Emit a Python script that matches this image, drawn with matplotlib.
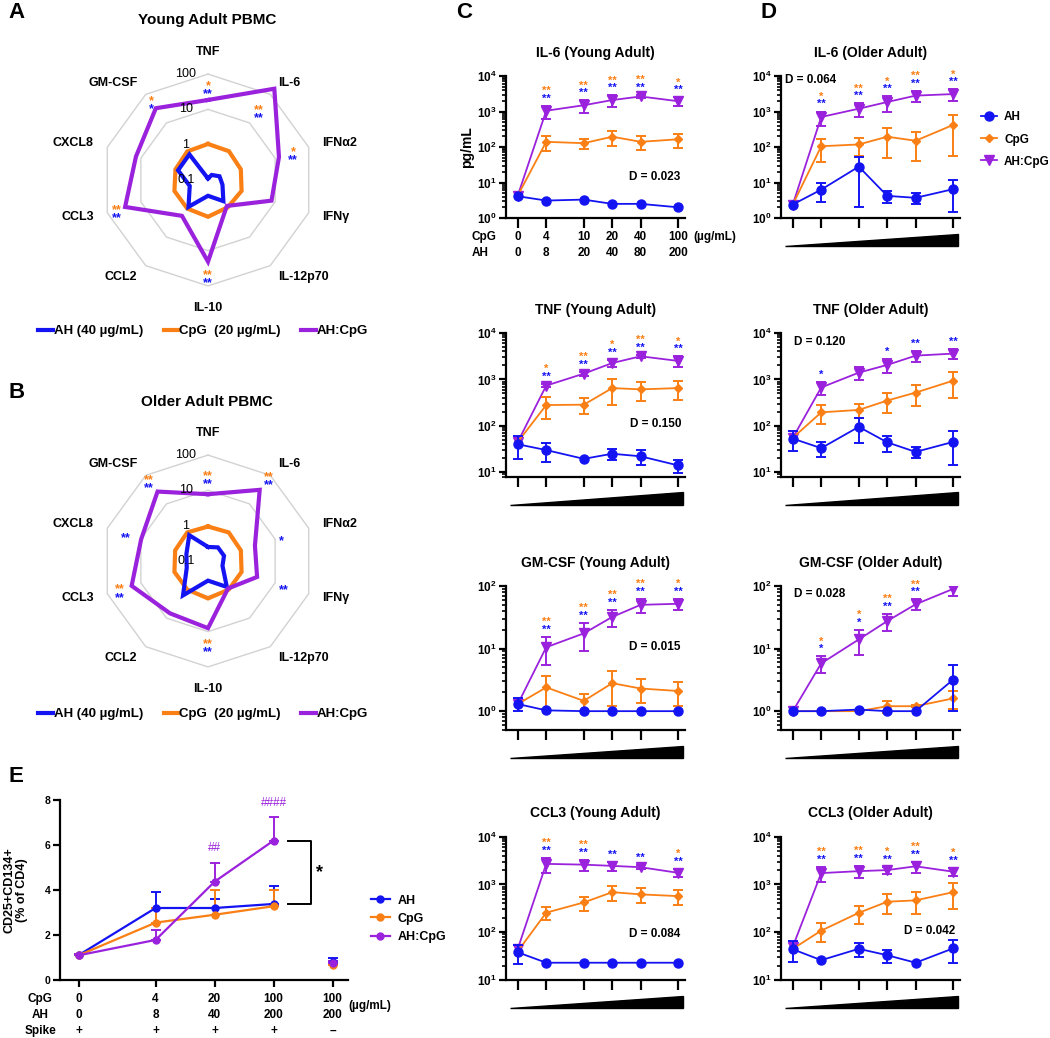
import numpy as np
import matplotlib
matplotlib.use('Agg')
import matplotlib.pyplot as plt
import matplotlib.transforms as mtransforms
from matplotlib import ticker
from matplotlib.lines import Line2D
from matplotlib.patches import Polygon

plt.rcParams['font.family'] = ['Liberation Sans', 'DejaVu Sans']
plt.rcParams['font.weight'] = 'bold'
plt.rcParams['axes.labelweight'] = 'bold'
plt.rcParams['mathtext.fontset'] = 'custom'
plt.rcParams['mathtext.rm'] = 'Liberation Sans:bold'
plt.rcParams['mathtext.bf'] = 'Liberation Sans:bold'
plt.rcParams['axes.linewidth'] = 1.6

BLUE = '#1414F2'
ORANGE = '#FA7F14'
PURPLE = '#9B22DC'
GREY = '#D2D2D2'

###################################################
# Data

# radar plots: fold change over medium
cytokines = ['TNF', 'IL-6', 'IFNα2', 'IFNγ', 'IL-12p70', 'IL-10', 'CCL2', 'CCL3', 'CXCL8', 'GM-CSF']
young_ah = [0.11, 0.15, 0.22, 0.27, 0.55, 0.28, 0.87, 0.35, 0.78, 0.79]
young_cpg = [1.05, 1.02, 0.95, 1.0, 0.9, 1.1, 1.0, 1.0, 0.93, 1.0]
young_combo = [18.5, 157, 13, 7.8, 0.81, 20.6, 1.8, 29.5, 14, 32.6]
young_sig_cpg = ['*', '**', '*', '', '', '**', '', '**', '', '*']
young_sig_ah = ['**', '**', '**', '', '', '**', '', '**', '', '*']

old_ah = [0.25, 0.3, 0.3, 0.27, 0.81, 0.36, 1.6, 0.43, 0.44, 0.8]
old_cpg = [0.95, 1.0, 0.95, 1.0, 1.0, 1.15, 1.0, 1.0, 0.95, 1.0]
old_combo = [7.8, 31, 2.5, 2.9, 0.92, 8, 6.8, 18.8, 9.8, 27]
old_sig_cpg = ['**', '**', '', '', '', '**', '', '**', '', '**']
old_sig_ah = ['**', '**', '*', '**', '', '**', '', '**', '**', '**']

ring_values = [1, 10, 100]
ring_labels = ['0.1', '1', '10', '100']

# dose response (pg/mL), rows = AH, CpG, AH:CpG
cpg_dose = [0, 4, 10, 20, 40, 100]
ah_dose = [0, 8, 20, 40, 80, 200]
nan = np.nan

il6_y_mean = [[4.1, 3.1, 3.3, 2.5, 2.5, 2.0],
              [4.3, 140, 128, 195, 140, 165],
              [4.3, 1050, 1500, 2100, 2650, 1950]]
il6_y_sem = [[nan, nan, nan, nan, nan, nan],
             [nan, 62, 42, 85, 60, 72],
             [nan, 420, 580, 750, 300, 560]]
il6_y_sig = [['', '**', '**', '**', '**', '*'], ['', '**', '**', '**', '**', '**']]

il6_o_mean = [[2.4, 6.3, 28, 4.2, 3.7, 6.5],
              [2.4, 105, 118, 195, 150, 420],
              [2.4, 700, 1200, 1850, 2800, 3100]]
il6_o_sem = [[nan, 3.4, 26, 1.5, 1.2, 5.0],
             [nan, 68, 62, 145, 110, 365],
             [nan, 300, 500, 850, 1000, 1100]]
il6_o_sig = [['', '*', '**', '*', '**', '*'], ['', '**', '**', '**', '**', '**']]

tnf_y_mean = [[40, 30, 19.4, 25, 22, 14],
              [45, 280, 285, 650, 610, 650],
              [45, 735, 1330, 2250, 3150, 2500]]
tnf_y_sem = [[21, 13, nan, 7, 8, 4.5],
             [nan, 140, 105, 370, 270, 290],
             [nan, 60, 120, 400, 250, 650]]
tnf_y_sig = [['', '*', '**', '*', '**', '*'], ['', '**', '**', '**', '**', '**']]

tnf_o_mean = [[53, 33, 95, 44, 27.4, 45],
              [55, 195, 220, 350, 520, 940],
              [55, 670, 1400, 2050, 3250, 3600]]
tnf_o_sem = [[25, 12, 52, 17, 6.7, 31],
             [nan, 83, 75, 165, 255, 540],
             [nan, 200, 450, 650, 900, 900]]
tnf_o_sig = [['', '', '', '', '', ''], ['', '*', '', '*', '**', '**']]

gm_y_mean = [[1.3, 1.03, 1.0, 1.0, 1.0, 1.0],
             [1.3, 2.4, 1.46, 2.8, 2.3, 2.1],
             [1.3, 10.5, 17.5, 32, 50, 52]]
gm_y_sem = [[0.3, nan, nan, nan, nan, nan],
            [nan, 1.3, 0.45, 1.6, 0.95, 0.87],
            [nan, 5, 8.3, 10, 13, 11]]
gm_y_sig = [['', '**', '**', '**', '**', '*'], ['', '**', '**', '**', '**', '**']]

gm_o_mean = [[1.0, 1.0, 1.06, 1.0, 1.0, 3.2],
             [1.0, 1.0, 1.0, 1.2, 1.2, 1.6],
             [1.0, 5.8, 14, 27.5, 51, 90]]
gm_o_sem = [[nan, nan, nan, nan, nan, 2.2],
            [nan, nan, nan, 0.26, 0.05, 0.52],
            [nan, 1.7, 6, 8.5, 10, 20]]
gm_o_sig = [['', '*', '*', '**', '**', '**'], ['', '*', '*', '**', '**', '**']]

ccl3_y_mean = [[38, 23, 23, 23, 23, 23],
               [40, 257, 420, 690, 620, 570],
               [45, 2700, 2600, 2450, 2300, 1750]]
ccl3_y_sem = [[16, nan, nan, nan, nan, nan],
              [nan, 75, 135, 240, 215, 200],
              [nan, 950, 700, 500, 200, 350]]
ccl3_y_sig = [['', '**', '**', '', '', '*'], ['', '**', '**', '**', '**', '**']]

ccl3_o_mean = [[44, 26, 45, 33, 23, 46],
               [45, 108, 255, 435, 465, 690],
               [50, 1730, 1900, 2000, 2400, 1850]]
ccl3_o_sem = [[20, nan, 15, 10, nan, 23],
              [nan, 46, 105, 190, 220, 390],
              [nan, 620, 560, 370, 620, 350]]
ccl3_o_sig = [['', '**', '**', '*', '**', '*'], ['', '**', '**', '**', '**', '**']]

# panel E: CD25+CD134+ (% of CD4)
e_cpg = ['0', '4', '20', '100', '100']
e_ah = ['0', '8', '40', '200', '200']
e_spike = ['+', '+', '+', '+', '–']
e_ah_mean = [1.11, 3.2, 3.2, 3.38, 0.8]
e_ah_sem = [0.05, 0.72, 0.4, 0.82, 0.18]
e_cpg_mean = [1.1, 2.55, 2.9, 3.28, 0.67]
e_cpg_sem = [0.05, 0.65, 1.1, 0.72, 0.05]
e_combo_mean = [1.1, 1.78, 4.37, 6.2, 0.75]
e_combo_sem = [0.05, 0.46, 0.85, 1.03, 0.1]
e_hash = ['', '', '##', '####', '']

###################################################
# Layout helpers

W, H = 1050, 1038
fig = plt.figure(figsize=(W / 100, H / 100), dpi=100)


def px_axes(left, top, width, height, **kw):
    return fig.add_axes([left / W, 1 - (top + height) / H, width / W, height / H], **kw)


def below(trans, px):
    return mtransforms.offset_copy(trans, fig=fig, y=-px, units='dots')


def fig_text(x, y, s, **kw):
    fig.text(x / W, 1 - y / H, s, **kw)


###################################################
# Radar plots (A, B)

PX_DEC = 35.3          # pixels per decade on the radar
label_r = [423, 251, 251, 251, 251, 423, 251, 251, 251, 251]
label_ha = ['center', 'left', 'left', 'left', 'left', 'center', 'right', 'right', 'right', 'right']


def radar(cy, ah, cpg, combo, sig_cpg, sig_ah, star_r, title, title_y, legend_y):
    rmax = 10 ** 2.5
    half = PX_DEC * 3.5
    ax = px_axes(208 - half, cy - half, 2 * half, 2 * half, projection='polar')
    ax.set_theta_zero_location('N')
    ax.set_theta_direction(-1)
    ax.set_rscale('log')
    ax.set_rlim(0.1, rmax)
    ax.grid(False)
    ax.set_xticks([])
    ax.set_yticks([])
    ax.yaxis.set_minor_locator(ticker.NullLocator())
    ax.spines['polar'].set_visible(False)
    ax.patch.set_alpha(0)

    theta = np.linspace(0, 2 * np.pi, len(cytokines), endpoint=False)
    closed = np.append(theta, theta[0])
    for ring in ring_values:
        ax.plot(closed, [ring] * len(closed), color=GREY, lw=1, zorder=1)
    for lab, val in zip(ring_labels, [0.1] + ring_values):
        ax.annotate(lab, xy=(0, val), xytext=(-16, 0), textcoords='offset points',
                    ha='center', va='center', fontsize=9, fontweight='normal', zorder=5)

    for vals, col in [(cpg, ORANGE), (ah, BLUE), (combo, PURPLE)]:
        ax.plot(closed, np.append(vals, vals[0]), color=col, lw=3,
                solid_joinstyle='miter', zorder=3)

    for t, lab, r, ha in zip(theta, cytokines, label_r, label_ha):
        ax.text(t, r, lab, ha=ha, va='center', fontsize=9)

    for t, so, sb, r in zip(theta, sig_cpg, sig_ah, star_r):
        if so:
            ax.annotate(so, xy=(t, r), xytext=(0, -2.2), textcoords='offset points',
                        ha='center', va='baseline', color=ORANGE, fontsize=9)
        if sb:
            dy = -8 if so else -5.1
            ax.annotate(sb, xy=(t, r), xytext=(0, dy), textcoords='offset points',
                        ha='center', va='baseline', color=BLUE, fontsize=9)

    fig_text(207, title_y, title, ha='center', va='center', fontsize=11)
    handles = [Line2D([], [], color=c, lw=3) for c in (BLUE, ORANGE, PURPLE)]
    fig.legend(handles, ['AH (40 µg/mL)', 'CpG  (20 µg/mL)', 'AH:CpG'],
               loc='center left', bbox_to_anchor=(38 / W, 1 - legend_y / H), ncol=3,
               frameon=False, fontsize=9.5, handlelength=1.1, handletextpad=0.1,
               columnspacing=1.55, borderpad=0, borderaxespad=0)


young_star_r = [46, 29, 34, 1, 1, 49, 1, 52, 1, 56]
old_star_r = [25.6, 85.5, 15, 18.5, 1, 23, 1, 41.7, 27.3, 70]
radar(180, young_ah, young_cpg, young_combo, young_sig_cpg, young_sig_ah,
      young_star_r, 'Young Adult PBMC', 20, 331)
radar(561, old_ah, old_cpg, old_combo, old_sig_cpg, old_sig_ah,
      old_star_r, 'Older Adult PBMC', 402, 714)

###################################################
# Dose response panels (C, D)

xpos = np.where(np.array(cpg_dose) == 0, 2, cpg_dose)   # zero dose sits at 2 on the log axis
styles = [(BLUE, 'o', 6.5), (ORANGE, 'D', 4.5), (PURPLE, 'v', 7.5)]


def log_fmt(v, pos):
    return r'$\mathbf{10^{%d}}$' % int(round(np.log10(v)))


def dose_panel(left, top, height, ylim, title, mean, sem, sig, dtext, dpos, wedge=True):
    ax = px_axes(left, top, 179, height)
    ax.set_xscale('log')
    ax.set_yscale('log')
    ax.set_xlim(1.5, 118)
    ax.set_ylim(*ylim)
    for i in [2, 1, 0]:
        col, mk, ms = styles[i]
        ax.errorbar(xpos, mean[i], yerr=sem[i], color=col, marker=mk, ms=ms, lw=1.3,
                    elinewidth=1.4, capsize=3.5, capthick=1.4, zorder=3 + (2 - i))
    ax.spines['top'].set_visible(False)
    ax.spines['right'].set_visible(False)
    ax.set_xticks(xpos)
    ax.set_xticklabels([])
    ax.xaxis.set_minor_locator(ticker.NullLocator())
    ax.tick_params(axis='x', length=7, width=1.6)
    ax.yaxis.set_major_locator(ticker.LogLocator(base=10))
    ax.yaxis.set_minor_locator(ticker.LogLocator(base=10, subs=np.arange(2, 10)))
    ax.yaxis.set_major_formatter(ticker.FuncFormatter(log_fmt))
    ax.yaxis.set_minor_formatter(ticker.NullFormatter())
    ax.tick_params(axis='y', which='major', length=5, width=1.6, labelsize=8.5, pad=2)
    ax.tick_params(axis='y', which='minor', length=3, width=1.2)
    ax.set_title(title, fontsize=10, fontweight='bold', pad=14)

    tops = np.nanmax(np.array(mean) + np.nan_to_num(np.array(sem)), axis=0)
    for x, t, so, sb in zip(xpos, tops, sig[0], sig[1]):
        if sb:
            ax.annotate(sb, xy=(x, t), xytext=(0, 3), textcoords='offset points',
                        ha='center', va='baseline', color=BLUE, fontsize=8)
        if so:
            ax.annotate(so, xy=(x, t), xytext=(0, 8.5), textcoords='offset points',
                        ha='center', va='baseline', color=ORANGE, fontsize=8)

    ax.text(dpos[0], dpos[1], dtext, transform=ax.transAxes, ha=dpos[2], va='center',
            fontsize=8.5)

    if wedge:
        tr = ax.transAxes
        h = height
        ax.add_patch(Polygon([(0.022, -28 / h), (0.99, -28 / h), (0.99, -15.5 / h)],
                             closed=True, transform=tr, color='black', clip_on=False))
    return ax


row_top = [76, 333, 586, 836.7]
row_h = [142, 143.7, 144, 143.3]
row_ylim = [(1, 1e4), (8, 1e4), (0.5, 100), (10, 1e4)]
C_LEFT, D_LEFT = 506, 781

young_panels = [('IL-6 (Young Adult)', il6_y_mean, il6_y_sem, il6_y_sig, 'D = 0.023', (0.975, 0.29, 'right')),
                ('TNF (Young Adult)', tnf_y_mean, tnf_y_sem, tnf_y_sig, 'D = 0.150', (0.98, 0.367, 'right')),
                ('GM-CSF (Young Adult)', gm_y_mean, gm_y_sem, gm_y_sig, 'D = 0.015', (0.975, 0.574, 'right')),
                ('CCL3 (Young Adult)', ccl3_y_mean, ccl3_y_sem, ccl3_y_sig, 'D = 0.084', (0.975, 0.32, 'right'))]
old_panels = [('IL-6 (Older Adult)', il6_o_mean, il6_o_sem, il6_o_sig, 'D = 0.064', (0.022, 0.975, 'left')),
              ('TNF (Older Adult)', tnf_o_mean, tnf_o_sem, tnf_o_sig, 'D = 0.120', (0.073, 0.935, 'left')),
              ('GM-CSF (Older Adult)', gm_o_mean, gm_o_sem, gm_o_sig, 'D = 0.028', (0.073, 0.944, 'left')),
              ('CCL3 (Older Adult)', ccl3_o_mean, ccl3_o_sem, ccl3_o_sig, 'D = 0.042', (0.972, 0.344, 'right'))]

c_axes = []
for k, (title, m, s, g, dt, dp) in enumerate(young_panels):
    c_axes.append(dose_panel(C_LEFT, row_top[k], row_h[k], row_ylim[k], title, m, s, g, dt, dp,
                             wedge=(k > 0)))
d_axes = []
for k, (title, m, s, g, dt, dp) in enumerate(old_panels):
    d_axes.append(dose_panel(D_LEFT, row_top[k], row_h[k], row_ylim[k], title, m, s, g, dt, dp))

# dose table under IL-6 (Young Adult)
ax = c_axes[0]
ax.set_ylabel('pg/mL', fontsize=10, labelpad=2)
for x, c, a in zip(xpos, cpg_dose, ah_dose):
    ax.text(x, 0, str(c), transform=below(ax.get_xaxis_transform(), 18.7),
            ha='center', va='center', fontsize=8.5)
    ax.text(x, 0, str(a), transform=below(ax.get_xaxis_transform(), 35.3),
            ha='center', va='center', fontsize=8.5)
row_tr = mtransforms.blended_transform_factory(fig.transFigure, ax.transAxes)
ax.text(472 / W, 0, 'CpG', transform=below(row_tr, 18.7), ha='left', va='center', fontsize=8.5)
ax.text(472 / W, 0, 'AH', transform=below(row_tr, 35.3), ha='left', va='center', fontsize=8.5)
ax.text(693 / W, 0, '(µg/mL)', transform=below(row_tr, 18.7), ha='left', va='center', fontsize=8.5)

legend_handles = [Line2D([], [], color=c, marker=mk, ms=ms, lw=1.3) for c, mk, ms in styles]
d_axes[0].legend(legend_handles, ['AH', 'CpG', 'AH:CpG'], loc='upper left',
                 bbox_to_anchor=(1.115, 0.75), frameon=False, fontsize=8.5,
                 handlelength=1.4, handletextpad=0.6, labelspacing=0.85,
                 borderpad=0, borderaxespad=0)

###################################################
# Panel E

e_pos = [0, 1.3, 2.3, 3.3, 4.3]
ax = px_axes(60, 800, 288, 180)
for m, s, col in [(e_ah_mean, e_ah_sem, BLUE), (e_cpg_mean, e_cpg_sem, ORANGE),
                  (e_combo_mean, e_combo_sem, PURPLE)]:
    ax.errorbar(e_pos[:4], m[:4], yerr=[np.zeros(4), s[:4]], color=col, marker='o', ms=5,
                lw=1.6, elinewidth=1.4, capsize=3.5, capthick=1.4, clip_on=False)
    ax.errorbar(e_pos[4:], m[4:], yerr=[[0], s[4:]], color=col, marker='o', ms=5,
                lw=1.6, elinewidth=1.4, capsize=3.5, capthick=1.4, clip_on=False)
for x, y, s, h in zip(e_pos, e_combo_mean, e_combo_sem, e_hash):
    if h:
        ax.annotate(h, xy=(x, y + s), xytext=(0, 8), textcoords='offset points',
                    ha='center', va='baseline', color=PURPLE, fontsize=8.5, fontweight='normal')
ax.set_xlim(-0.32, 4.56)
ax.set_ylim(0, 8)
ax.set_yticks([0, 2, 4, 6, 8])
ax.set_xticks(e_pos)
ax.set_xticklabels([])
ax.tick_params(axis='y', length=5, width=1.6, labelsize=7.5, pad=2)
ax.tick_params(axis='x', length=5, width=1.6)
ax.spines['top'].set_visible(False)
ax.spines['right'].set_visible(False)
ax.set_ylabel('CD25+CD134+\n(% of CD4)', fontsize=9, linespacing=1.1)
ax.yaxis.set_label_coords(-0.11, 0.5)

# significance bracket between AH:CpG and AH at the top dose
bx = e_pos[3]
ax.plot([bx + 0.24, bx + 0.63, bx + 0.63, bx + 0.24],
        [e_combo_mean[3], e_combo_mean[3], e_ah_mean[3], e_ah_mean[3]],
        color='black', lw=1.4, clip_on=False)
ax.text(bx + 0.78, (e_combo_mean[3] + e_ah_mean[3]) / 2, '*', ha='center', va='center',
        fontsize=13)

for x, c, a, sp in zip(e_pos, e_cpg, e_ah, e_spike):
    for txt, d in [(c, 19.3), (a, 35.3), (sp, 51)]:
        ax.text(x, 0, txt, transform=below(ax.get_xaxis_transform(), d),
                ha='center', va='center', fontsize=8.5)
row_tr = mtransforms.blended_transform_factory(fig.transFigure, ax.transAxes)
for txt, d in [('CpG', 19.3), ('AH', 35.3), ('Spike', 51)]:
    ax.text(40 / W, 0, txt, transform=below(row_tr, d), ha='center', va='center', fontsize=8.5)
ax.text(1.0, 0, '(µg/mL)', transform=below(ax.transAxes, 25.7), ha='left', va='center',
        fontsize=8.5)

e_handles = [Line2D([], [], color=c, marker='o', ms=5, lw=1.6) for c in (BLUE, ORANGE, PURPLE)]
ax.legend(e_handles, ['AH', 'CpG', 'AH:CpG'], loc='upper left', bbox_to_anchor=(1.08, 0.475),
          frameon=False, fontsize=9, handlelength=1.5, handletextpad=0.6, labelspacing=0.5,
          borderpad=0, borderaxespad=0)

###################################################
# Panel letters

for x, y, s in [(8, 12, 'A'), (8, 393, 'B'), (456, 12, 'C'), (760, 12, 'D'), (9, 776, 'E')]:
    fig_text(x, y, s, ha='left', va='center', fontsize=16)

fig.savefig('out.png', dpi=100)
